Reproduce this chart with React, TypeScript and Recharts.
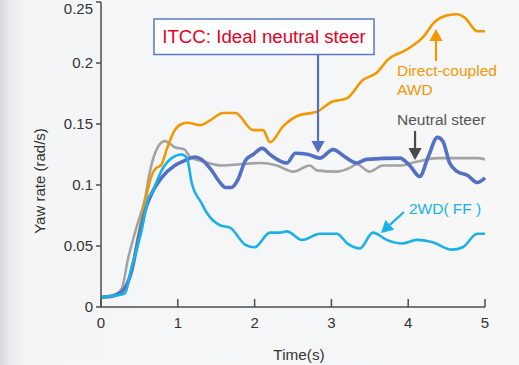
import {
  Line,
  LineChart,
  ReferenceArea,
  ReferenceDot,
  ReferenceLine,
  XAxis,
  YAxis,
} from 'recharts';

// time (s) / yaw rate (rad/s) samples
const awdCurve = [
  { t: 0, v: 0.008 }, { t: 0.15, v: 0.009 }, { t: 0.27, v: 0.013 }, { t: 0.38, v: 0.025 },
  { t: 0.48, v: 0.057 }, { t: 0.57, v: 0.085 }, { t: 0.66, v: 0.108 }, { t: 0.72, v: 0.114 },
  { t: 0.78, v: 0.116 }, { t: 0.86, v: 0.13 }, { t: 0.96, v: 0.145 }, { t: 1.05, v: 0.15 },
  { t: 1.13, v: 0.151 }, { t: 1.29, v: 0.149 }, { t: 1.42, v: 0.153 }, { t: 1.59, v: 0.159 },
  { t: 1.75, v: 0.159 }, { t: 1.98, v: 0.145 }, { t: 2.11, v: 0.145 }, { t: 2.2, v: 0.135 },
  { t: 2.37, v: 0.148 }, { t: 2.57, v: 0.157 }, { t: 2.81, v: 0.16 }, { t: 3.0, v: 0.168 },
  { t: 3.2, v: 0.171 }, { t: 3.41, v: 0.186 }, { t: 3.59, v: 0.192 }, { t: 3.74, v: 0.203 },
  { t: 3.98, v: 0.211 }, { t: 4.19, v: 0.221 }, { t: 4.35, v: 0.234 }, { t: 4.5, v: 0.239 },
  { t: 4.64, v: 0.24 }, { t: 4.74, v: 0.237 }, { t: 4.9, v: 0.226 }, { t: 5.0, v: 0.226 },
];

const neutralCurve = [
  { t: 0, v: 0.008 }, { t: 0.15, v: 0.009 }, { t: 0.27, v: 0.015 }, { t: 0.35, v: 0.039 },
  { t: 0.48, v: 0.069 }, { t: 0.57, v: 0.088 }, { t: 0.64, v: 0.112 }, { t: 0.74, v: 0.131 },
  { t: 0.83, v: 0.136 }, { t: 0.96, v: 0.131 }, { t: 1.09, v: 0.129 }, { t: 1.16, v: 0.123 },
  { t: 1.35, v: 0.119 }, { t: 1.58, v: 0.116 }, { t: 1.81, v: 0.117 }, { t: 2.07, v: 0.118 },
  { t: 2.29, v: 0.116 }, { t: 2.5, v: 0.111 }, { t: 2.72, v: 0.116 }, { t: 2.81, v: 0.112 },
  { t: 3.07, v: 0.111 }, { t: 3.24, v: 0.114 }, { t: 3.33, v: 0.117 }, { t: 3.5, v: 0.111 },
  { t: 3.67, v: 0.116 }, { t: 3.89, v: 0.116 }, { t: 4.11, v: 0.119 }, { t: 4.38, v: 0.122 },
  { t: 4.9, v: 0.122 }, { t: 5.0, v: 0.121 },
];

const itccCurve = [
  { t: 0, v: 0.008 }, { t: 0.15, v: 0.009 }, { t: 0.28, v: 0.013 }, { t: 0.4, v: 0.03 },
  { t: 0.5, v: 0.06 }, { t: 0.6, v: 0.084 }, { t: 0.66, v: 0.093 }, { t: 0.79, v: 0.106 },
  { t: 0.96, v: 0.116 }, { t: 1.09, v: 0.12 }, { t: 1.22, v: 0.123 }, { t: 1.31, v: 0.121 },
  { t: 1.44, v: 0.112 }, { t: 1.55, v: 0.102 }, { t: 1.62, v: 0.098 }, { t: 1.7, v: 0.098 },
  { t: 1.78, v: 0.104 }, { t: 1.88, v: 0.12 }, { t: 1.98, v: 0.125 }, { t: 2.1, v: 0.13 },
  { t: 2.2, v: 0.125 }, { t: 2.42, v: 0.118 }, { t: 2.53, v: 0.126 }, { t: 2.7, v: 0.125 },
  { t: 2.85, v: 0.122 }, { t: 3.02, v: 0.129 }, { t: 3.2, v: 0.122 }, { t: 3.33, v: 0.118 },
  { t: 3.46, v: 0.121 }, { t: 3.89, v: 0.122 }, { t: 4.02, v: 0.116 }, { t: 4.15, v: 0.107 },
  { t: 4.26, v: 0.123 }, { t: 4.38, v: 0.139 }, { t: 4.45, v: 0.136 }, { t: 4.54, v: 0.118 },
  { t: 4.64, v: 0.111 }, { t: 4.77, v: 0.108 }, { t: 4.9, v: 0.102 }, { t: 5.0, v: 0.106 },
];

const ffCurve = [
  { t: 0, v: 0.008 }, { t: 0.15, v: 0.009 }, { t: 0.31, v: 0.011 }, { t: 0.4, v: 0.033 },
  { t: 0.53, v: 0.063 }, { t: 0.61, v: 0.088 }, { t: 0.68, v: 0.096 }, { t: 0.79, v: 0.112 },
  { t: 0.92, v: 0.122 }, { t: 1.05, v: 0.125 }, { t: 1.12, v: 0.122 }, { t: 1.18, v: 0.102 },
  { t: 1.31, v: 0.085 }, { t: 1.38, v: 0.077 }, { t: 1.55, v: 0.067 }, { t: 1.68, v: 0.065 },
  { t: 1.88, v: 0.051 }, { t: 2.0, v: 0.049 }, { t: 2.2, v: 0.061 }, { t: 2.33, v: 0.061 },
  { t: 2.42, v: 0.062 }, { t: 2.62, v: 0.055 }, { t: 2.85, v: 0.06 }, { t: 3.07, v: 0.06 },
  { t: 3.21, v: 0.052 }, { t: 3.37, v: 0.048 }, { t: 3.54, v: 0.061 }, { t: 3.72, v: 0.055 },
  { t: 3.92, v: 0.052 }, { t: 4.11, v: 0.055 }, { t: 4.32, v: 0.053 }, { t: 4.57, v: 0.047 },
  { t: 4.71, v: 0.049 }, { t: 4.9, v: 0.06 }, { t: 5.0, v: 0.06 },
];

const timeTicks = [0, 1, 2, 3, 4, 5];
const rateTicks = [0, 0.05, 0.1, 0.15, 0.2, 0.25];

const ORANGE = '#f39800';
const GRAY = '#a3a3a3';
const BLUE = '#5470c2';
const CYAN = '#1ab1e8';
const AXIS = '#4d4d4d';

const makeArrow = (color: string, head: number) => (p: any) => {
  const { x1, y1, x2, y2 } = p;
  const dx = x2 - x1;
  const dy = y2 - y1;
  const len = Math.hypot(dx, dy) || 1;
  const ux = dx / len;
  const uy = dy / len;
  const bx = x2 - ux * head;
  const by = y2 - uy * head;
  const w = head * 0.55;
  return (
    <g>
      <line x1={x1} y1={y1} x2={bx} y2={by} stroke={color} strokeWidth={2.2} />
      <polygon
        points={`${x2},${y2} ${bx - uy * w},${by + ux * w} ${bx + uy * w},${by - ux * w}`}
        fill={color}
      />
    </g>
  );
};

const XTick = ({ x, y, payload }: any) => (
  <g>
    <line x1={x} y1={y - 8} x2={x} y2={y} stroke={AXIS} strokeWidth={1.5} />
    <text x={x} y={y + 21} textAnchor="middle" fontSize={15} fill="#333">
      {payload.value}
    </text>
  </g>
);

const note = (value: string, color: string) => ({
  value,
  position: 'right' as const,
  offset: 0,
  fill: color,
  fontSize: 15.5,
});

export default function App() {
  return (
    <div
      style={{
        position: 'absolute',
        left: 0,
        top: 0,
        width: 519,
        height: 365,
        fontFamily: '"Liberation Sans", Arial, sans-serif',
        background:
          'linear-gradient(90deg, #d6d9de 0px, #e9ebee 10px, #f4f5f6 28px, #f7f7f8 100%)',
      }}
    >
      <LineChart width={519} height={365} margin={{ top: 2, right: 34, bottom: 0, left: 0 }}>
        <XAxis
          type="number"
          dataKey="t"
          domain={[0, 5]}
          ticks={timeTicks}
          height={58}
          stroke={AXIS}
          strokeWidth={1.5}
          tickLine={false}
          tickSize={0}
          tickMargin={0}
          tick={<XTick />}
          label={{
            content: ({ viewBox }: any) => (
              <text x={viewBox.x + viewBox.width / 2 + 6} y={viewBox.y + 53} textAnchor="middle" fontSize={15.3} fill="#333">
                Time(s)
              </text>
            ),
          }}
        />
        <YAxis
          type="number"
          domain={[0, 0.25]}
          ticks={rateTicks}
          width={101}
          stroke={AXIS}
          strokeWidth={1.5}
          tickSize={5}
          tickMargin={3}
          tick={{ fontSize: 15, fill: '#333' }}
          label={{
            content: ({ viewBox }: any) => (
              <text
                x={viewBox.x + 45}
                y={viewBox.y + 179}
                transform={`rotate(-90 ${viewBox.x + 45} ${viewBox.y + 179})`}
                textAnchor="middle"
                fontSize={15}
                fill="#333"
              >
                Yaw rate (rad/s)
              </text>
            ),
          }}
        />
        <Line data={neutralCurve} dataKey="v" type="monotone" stroke={GRAY} strokeWidth={2.6} dot={false} isAnimationActive={false} />
        <Line data={awdCurve} dataKey="v" type="monotone" stroke={ORANGE} strokeWidth={2.6} dot={false} isAnimationActive={false} />
        <Line data={itccCurve} dataKey="v" type="monotone" stroke={BLUE} strokeWidth={3.6} dot={false} isAnimationActive={false} />
        <Line data={ffCurve} dataKey="v" type="monotone" stroke={CYAN} strokeWidth={2.6} dot={false} isAnimationActive={false} />

        <ReferenceArea
          x1={0.69}
          x2={3.555}
          y1={0.207}
          y2={0.236}
          fill="#ffffff"
          fillOpacity={1}
          stroke="#5b78c4"
          strokeWidth={1.5}
          label={{ value: 'ITCC: Ideal neutral steer', position: 'center', fill: '#e60023', fontSize: 18.7 }}
        />
        <ReferenceLine segment={[{ x: 2.826, y: 0.207 }, { x: 2.826, y: 0.1262 }]} shape={makeArrow(BLUE, 12)} />
        <ReferenceLine segment={[{ x: 4.362, y: 0.2016 }, { x: 4.362, y: 0.2279 }]} shape={makeArrow(ORANGE, 12)} />
        <ReferenceLine segment={[{ x: 4.089, y: 0.1443 }, { x: 4.089, y: 0.1205 }]} shape={makeArrow('#4a4a4a', 12)} />
        <ReferenceLine segment={[{ x: 3.945, y: 0.0779 }, { x: 3.646, y: 0.0607 }]} shape={makeArrow(CYAN, 12)} />

        <ReferenceDot x={3.854} y={0.1939} r={0} stroke="none" label={note('Direct-coupled', ORANGE)} />
        <ReferenceDot x={3.854} y={0.1783} r={0} stroke="none" label={note('AWD', ORANGE)} />
        <ReferenceDot x={3.854} y={0.1537} r={0} stroke="none" label={note('Neutral steer', '#555555')} />
        <ReferenceDot x={4.01} y={0.0811} r={0} stroke="none" label={note('2WD( FF )', CYAN)} />
      </LineChart>
    </div>
  );
}
